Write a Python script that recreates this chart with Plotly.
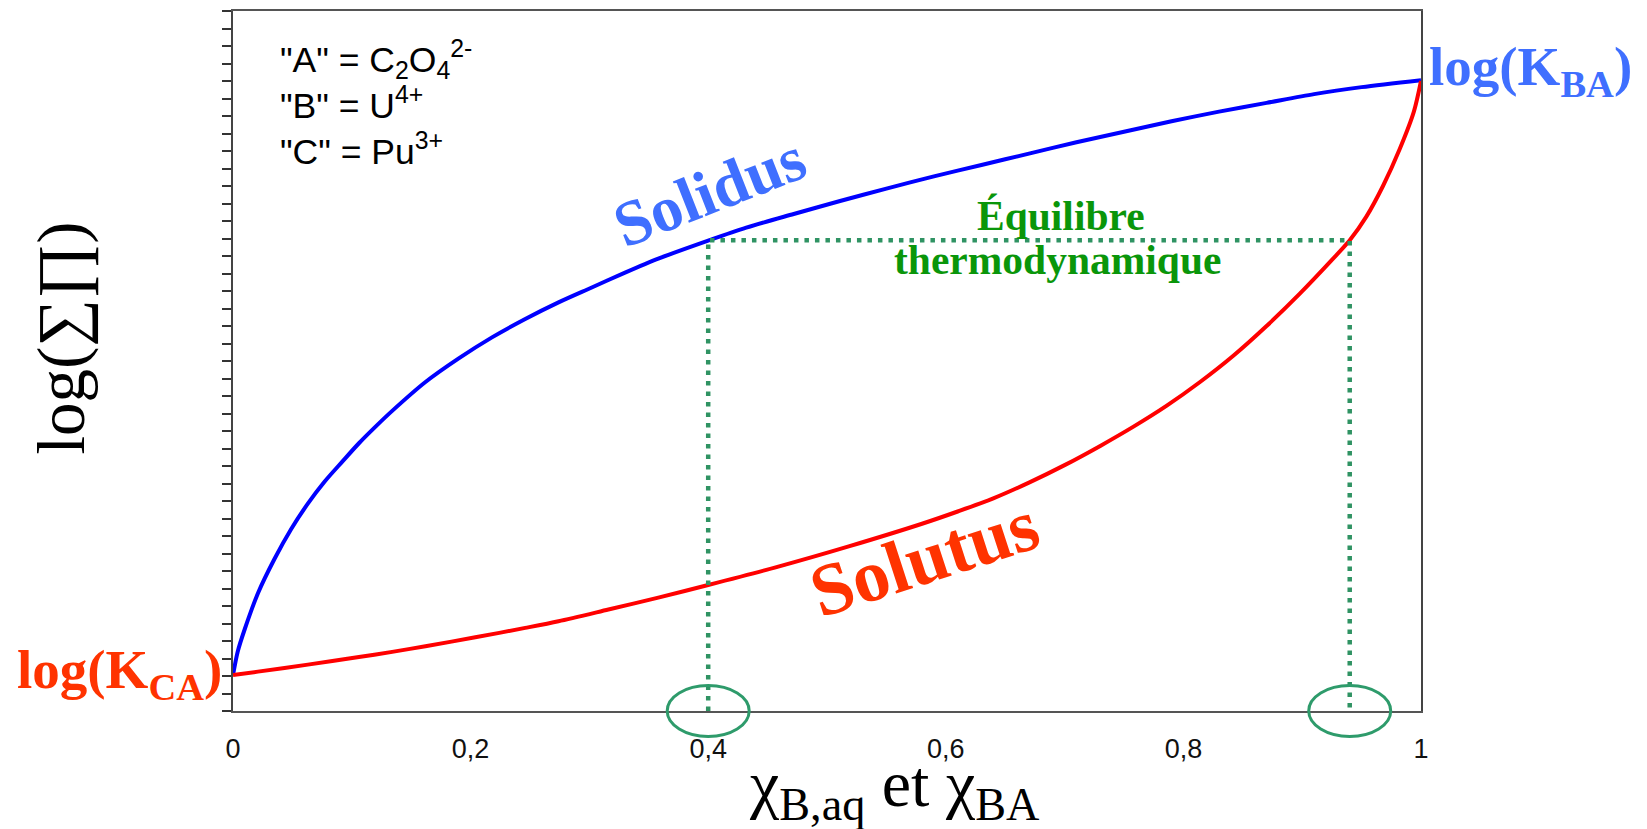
import plotly.graph_objects as go

# ---------------- data ----------------
solidus_x = [0.000, 0.004, 0.010, 0.021, 0.035, 0.049, 0.063, 0.077, 0.092, 0.106,
             0.120, 0.134, 0.162, 0.190, 0.218, 0.246, 0.274, 0.302, 0.330, 0.358,
             0.400, 0.432, 0.472, 0.511, 0.550, 0.590, 0.630, 0.670, 0.710, 0.750,
             0.790, 0.830, 0.870, 0.910, 0.950, 1.000]
solidus_y = [2.05, 3.40, 4.70, 6.73, 8.70, 10.40, 11.85, 13.10, 14.25, 15.30,
             16.25, 17.15, 18.80, 20.15, 21.35, 22.40, 23.35, 24.20, 25.05, 25.85,
             26.88, 27.62, 28.40, 29.14, 29.85, 30.55, 31.20, 31.85, 32.50, 33.10,
             33.70, 34.25, 34.75, 35.25, 35.65, 36.05]

solutus_x = [0.000, 0.021, 0.063, 0.106, 0.134, 0.162, 0.204, 0.246, 0.274, 0.316,
             0.358, 0.400, 0.459, 0.519, 0.580, 0.610, 0.640, 0.670, 0.700, 0.730,
             0.758, 0.786, 0.814, 0.842, 0.870, 0.898, 0.926, 0.940, 0.954, 0.968,
             0.982, 0.994, 1.000]
solutus_y = [2.05, 2.25, 2.65, 3.08, 3.38, 3.70, 4.21, 4.75, 5.13, 5.80,
             6.48, 7.20, 8.25, 9.42, 10.70, 11.40, 12.15, 13.05, 14.05, 15.15,
             16.25, 17.45, 18.80, 20.30, 22.00, 23.85, 25.85, 26.90, 28.25, 30.00,
             32.10, 34.25, 36.00]

eq_x = [0.40, 0.94]          # equilibrium compositions (aqueous / solid)
eq_level = 26.9              # common log(sum Pi) level

x_tickvals = [0, 0.2, 0.4, 0.6, 0.8, 1]
x_ticktext = ["0", "0,2", "0,4", "0,6", "0,8", "1"]
y_range = [0, 40]
x_range = [0, 1]

legend_lines = ['"A" = C<sub>2</sub>O<sub>4</sub><sup>2-</sup>',
                '"B" = U<sup>4+</sup>',
                '"C" = Pu<sup>3+</sup>']

# ---------------- styling ----------------
BLUE_LINE = "#0000FF"
RED_LINE = "#FF0000"
BLUE_TXT = "#3F6FFF"
RED_TXT = "#FF3300"
GREEN_TXT = "#0A960A"
GREEN_DOT = "#2F9363"
SERIF = "Liberation Serif, Times New Roman, serif"
SANS = "Liberation Sans, Arial, sans-serif"


def py(v):
    """data y -> paper y"""
    return (v - y_range[0]) / (y_range[1] - y_range[0])


def px_(v):
    """data x -> paper x"""
    return (v - x_range[0]) / (x_range[1] - x_range[0])


fig = go.Figure()

fig.add_trace(go.Scatter(x=solidus_x, y=solidus_y, mode="lines", name="Solidus",
                         line=dict(color=BLUE_LINE, width=4, shape="spline", smoothing=0.8),
                         hoverinfo="skip"))
fig.add_trace(go.Scatter(x=solutus_x, y=solutus_y, mode="lines", name="Solutus",
                         line=dict(color=RED_LINE, width=4, shape="spline", smoothing=0.8),
                         hoverinfo="skip"))
fig.add_trace(go.Scatter(x=[eq_x[0], eq_x[0], eq_x[1], eq_x[1]],
                         y=[y_range[0], eq_level, eq_level, y_range[0]],
                         mode="lines", name="Équilibre",
                         line=dict(color=GREEN_DOT, width=4.5, dash="4.5px,6px"),
                         hoverinfo="skip"))

# ellipses around the equilibrium compositions on the x axis
half_w_px, half_h_px = 41, 25.5
plot_w_px, plot_h_px = 1188, 702
for xe in eq_x:
    fig.add_shape(type="circle", xref="paper", yref="paper",
                  x0=px_(xe) - half_w_px / plot_w_px, x1=px_(xe) + half_w_px / plot_w_px,
                  y0=-half_h_px / plot_h_px, y1=half_h_px / plot_h_px,
                  line=dict(color="#2E9B6B", width=3))

ann = [
    # composition legend (top left)
    dict(x=px_(0.0396), y=0.9654, text="<br>".join(legend_lines),
         xanchor="left", yanchor="top", align="left",
         font=dict(family=SANS, size=35.5, color="#000000")),
    dict(x=px_(1.0067), y=py(36.58), text="<b>log(K<sub>BA</sub>)</b>", xanchor="left",
         font=dict(family=SERIF, size=55, color=BLUE_TXT)),
    dict(x=px_(-0.0093), y=py(2.15), text="<b>log(K<sub>CA</sub>)</b>", xanchor="right",
         font=dict(family=SERIF, size=55, color=RED_TXT)),
    dict(x=px_(0.4015), y=py(29.69), text="<b>Solidus</b>", textangle=-21.5,
         font=dict(family=SERIF, size=64, color=BLUE_TXT)),
    dict(x=px_(0.582), y=py(8.75), text="<b>Solutus</b>", textangle=-18,
         font=dict(family=SERIF, size=74, color=RED_TXT)),
    dict(x=px_(0.697), y=py(28.27), text="<b>Équilibre</b>",
         font=dict(family=SERIF, size=41.5, color=GREEN_TXT)),
    dict(x=px_(0.6944), y=py(25.76), text="<b>thermodynamique</b>",
         font=dict(family=SERIF, size=41.5, color=GREEN_TXT)),
    # axis titles
    dict(x=px_(0.5564), y=py(-4.4), text="χ<sub>B,aq</sub> et χ<sub>BA</sub>",
         font=dict(family="Liberation Serif", size=66, color="#000000")),
    dict(x=px_(-0.1445), y=py(21.3), text="log(∑∏)", textangle=-90,
         font=dict(family="Liberation Serif", size=67, color="#000000")),
]
for a in ann:
    a.setdefault("xanchor", "center")
    a.setdefault("yanchor", "middle")
    a.update(xref="paper", yref="paper", showarrow=False, borderpad=0, borderwidth=0)
fig.update_layout(annotations=ann)

fig.update_layout(
    width=1647, height=829,
    margin=dict(l=225, r=234, t=1, b=126, pad=0),
    paper_bgcolor="white", plot_bgcolor="white",
    showlegend=False,
    xaxis=dict(range=x_range, showgrid=False, zeroline=False,
               showline=True, linecolor="#555555", linewidth=2, mirror=True,
               tickvals=x_tickvals, ticktext=x_ticktext,
               ticks="outside", ticklen=13, tickcolor="rgba(0,0,0,0)",
               tickfont=dict(family=SANS, size=27, color="#111111")),
    yaxis=dict(range=y_range, showgrid=False, zeroline=False,
               showline=True, linecolor="#444444", linewidth=2, mirror=True,
               ticks="outside", tick0=0, dtick=1, ticklen=9, tickwidth=1.5,
               tickcolor="#333333", showticklabels=False),
)

fig.write_html("out.html")
